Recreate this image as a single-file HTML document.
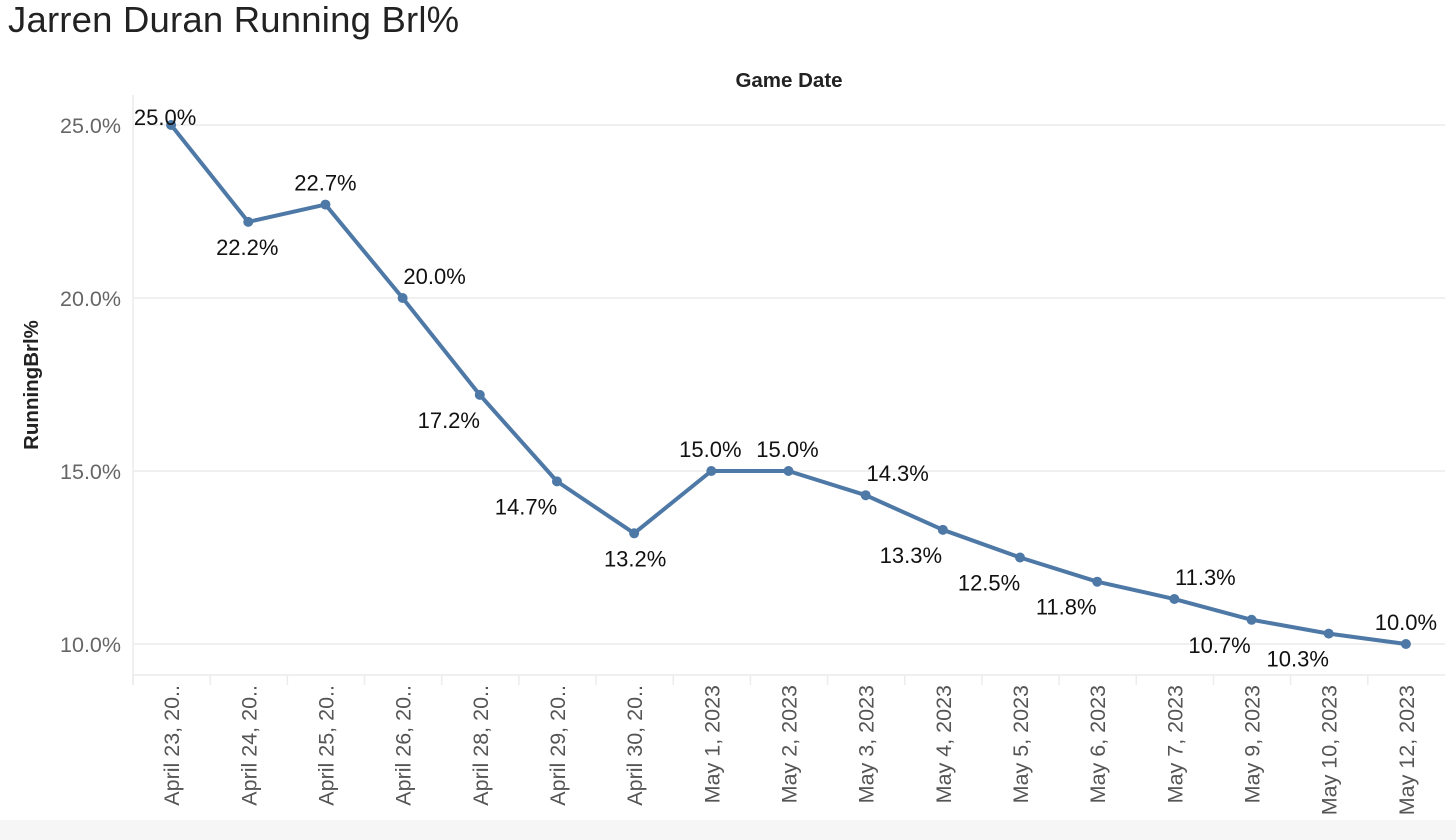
<!DOCTYPE html>
<html><head><meta charset="utf-8"><style>
body{margin:0;background:#fff;width:1456px;height:840px;overflow:hidden;font-family:"Liberation Sans",sans-serif}
#title{position:absolute;left:8px;top:-1px;font-size:36.5px;color:#222;font-weight:300;letter-spacing:0.2px}
#foot{position:absolute;left:0;top:820px;width:1456px;height:20px;background:#f6f6f6}
</style></head><body>
<div id="title">Jarren Duran Running Brl%</div>
<svg id="chart" width="1456" height="840" style="position:absolute;left:0;top:0"></svg>
<div id="foot"></div>
<script>
const categories=["April 23, 20..","April 24, 20..","April 25, 20..","April 26, 20..","April 28, 20..","April 29, 20..","April 30, 20..","May 1, 2023","May 2, 2023","May 3, 2023","May 4, 2023","May 5, 2023","May 6, 2023","May 7, 2023","May 9, 2023","May 10, 2023","May 12, 2023"];
const values=[25.0,22.2,22.7,20.0,17.2,14.7,13.2,15.0,15.0,14.3,13.3,12.5,11.8,11.3,10.7,10.3,10.0];
const valueLabels=["25.0%","22.2%","22.7%","20.0%","17.2%","14.7%","13.2%","15.0%","15.0%","14.3%","13.3%","12.5%","11.8%","11.3%","10.7%","10.3%","10.0%"];
const yTicks=[10,15,20,25];
const yTickLabels=["10.0%","15.0%","20.0%","25.0%"];
// label placement: [dx, dy] relative to point (styling)
const labelOffsets=[[-6,0],[-1,33],[0,-14],[32,-14],[-31,33],[-31,33],[1,33],[-1,-14],[-1,-14],[32,-14],[-32,33],[-31,33],[-31,33],[31,-14],[-32,33],[-31,33],[0,-14]];
const NS="http://www.w3.org/2000/svg",svg=document.getElementById('chart');
const L=133,R=1445,T=95,B=675;
const band=(R-L)/categories.length;
const x=i=>L+band*(i+0.5)-0.5;
const y=v=>644-(v-10)*34.6;
function mk(t,a,p){const e=document.createElementNS(NS,t);for(const k in a)e.setAttribute(k,a[k]);(p||svg).appendChild(e);return e;}
yTicks.forEach((t,i)=>{
 const g=mk('line',{x1:L,x2:R,y1:y(t),y2:y(t),stroke:'#ebebeb','stroke-width':1.5});
 
 
 const tx=mk('text',{x:L-12,y:y(t)+8,'text-anchor':'end','font-size':21.5,fill:'#666'});
 tx.textContent=yTickLabels[i];
 
 
});
const ax=mk('line',{x1:L,x2:L,y1:T,y2:B+10,stroke:'#ececec','stroke-width':1.5});


const bx=mk('line',{x1:L,x2:R,y1:B,y2:B,stroke:'#ececec','stroke-width':1.5});


categories.forEach((c,i)=>{
 const tk=mk('line',{x1:L+band*i,x2:L+band*i,y1:B,y2:B+10,stroke:'#ececec','stroke-width':1.5});
 
 
 const t=mk('text',{transform:`translate(${x(i)+8},685) rotate(-90)`,'text-anchor':'end','font-size':21.5,fill:'#555'});
 t.textContent=c;
 
 
});
const xt=mk('text',{x:789,y:87,'text-anchor':'middle','font-size':20.5,fill:'#222','font-weight':'bold'});
xt.textContent='Game Date';


const yt=mk('text',{transform:'translate(38,385) rotate(-90)','text-anchor':'middle','font-size':20.5,fill:'#222','font-weight':'bold'});
yt.textContent='RunningBrl%';


const pl=mk('polyline',{points:values.map((v,i)=>x(i)+','+y(v)).join(' '),fill:'none',stroke:'#4e79a7','stroke-width':4,'stroke-linejoin':'round'});


values.forEach((v,i)=>{
 const c=mk('circle',{cx:x(i),cy:y(v),r:5,fill:'#4e79a7'});
 
 
 const o=labelOffsets[i];
 const t=mk('text',{x:x(i)+o[0],y:y(v)+o[1],'text-anchor':'middle','font-size':22,fill:'#111'});
 t.textContent=valueLabels[i];
 
 
});
</script>
</body></html>
